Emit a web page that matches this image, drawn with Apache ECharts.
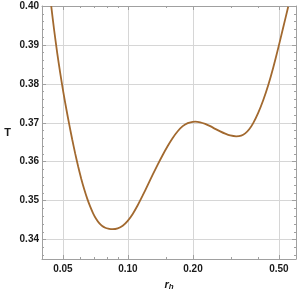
<!DOCTYPE html>
<html>
<head>
<meta charset="utf-8">
<script src="https://cdn.jsdelivr.net/npm/echarts@6/dist/echarts.min.js"></script>
<style>html,body{margin:0;padding:0;background:#fff}#c{width:300px;height:296px}</style>
</head>
<body>
<div id="c"></div>
<script>
const rValues = [0.044137, 0.045571, 0.047052, 0.048581, 0.050160, 0.051790, 0.053473, 0.055211, 0.057005, 0.058858, 0.060770, 0.062745, 0.064784, 0.066890, 0.069063, 0.071308, 0.073625, 0.076017, 0.078488, 0.081038, 0.083672, 0.085021,
  0.089675, 0.094585, 0.099763, 0.105225, 0.110985, 0.117061, 0.123469, 0.130229, 0.137358, 0.144878, 0.152810, 0.161176, 0.170000, 0.179307, 0.189123, 0.199477, 0.204865,
  0.216080, 0.227909, 0.240387, 0.253548, 0.267427, 0.282067, 0.297509, 0.317160,
  0.334525, 0.349095, 0.364308, 0.380179, 0.400991, 0.422946, 0.446103, 0.470524, 0.496282, 0.523449, 0.552108];
const TValues = [0.39995, 0.39364, 0.38790, 0.38273, 0.37802, 0.37366, 0.36957, 0.36570, 0.36207, 0.35870, 0.35564, 0.35291, 0.35051, 0.34844, 0.34668, 0.34527, 0.34421, 0.34349, 0.34304, 0.34278, 0.34268, 0.34265,
  0.34286, 0.34355, 0.34480, 0.34658, 0.34880, 0.35133, 0.35398, 0.35666, 0.35926, 0.36173, 0.36403, 0.36610, 0.36783, 0.36913, 0.36992, 0.37024, 0.37028,
  0.37013, 0.36972, 0.36913, 0.36844, 0.36778, 0.36719, 0.36673, 0.36651,
  0.36668, 0.36727, 0.36834, 0.36992, 0.37254, 0.37577, 0.37962, 0.38413, 0.38918, 0.39446, 0.39982];
const xTicks = [0.05, 0.1, 0.2, 0.5];
const xTickLabels = ['0.05', '0.10', '0.20', '0.50'];
const xMinorTicks = [0.04, 0.06, 0.07, 0.08, 0.09, 0.15, 0.3, 0.4, 0.6];
const yTicks = [0.34, 0.35, 0.36, 0.37, 0.38, 0.39, 0.40];
const yTickLabels = ['0.34', '0.35', '0.36', '0.37', '0.38', '0.39', '0.40'];
const yMinorTicks = [0.336, 0.338, 0.342, 0.344, 0.346, 0.348, 0.352, 0.354, 0.356, 0.358, 0.362, 0.364, 0.366, 0.368, 0.372, 0.374, 0.376, 0.378, 0.382, 0.384, 0.386, 0.388, 0.392, 0.394, 0.396, 0.398];
const xRange = [0.04, 0.6];
const yRange = [0.335, 0.40];

const L = Math.log10;
const axisGray = '#a0a0a0';
const gridGray = '#d6d6d6';
const labelStyle = {fontFamily: 'Liberation Sans, Arial, sans-serif', fontWeight: 'bold', fontSize: 10, color: '#1a1a1a'};

function nearestLabel(v, ticks, labels, f) {
  let best = 0, bd = Infinity;
  ticks.forEach((t, i) => { const d = Math.abs(f(t) - v); if (d < bd) { bd = d; best = i; } });
  return labels[best];
}

function xAxisDef(pos, major, main) {
  const vals = (major ? xTicks : xMinorTicks).map(L);
  return {
    type: 'value', position: pos, min: L(xRange[0]), max: L(xRange[1]),
    axisLine: {show: main, onZero: false, lineStyle: {color: axisGray, width: 1}},
    axisTick: {show: true, inside: true, length: major ? 4 : 2, customValues: vals, lineStyle: {color: axisGray}},
    axisLabel: main && pos === 'bottom' ? Object.assign({show: true, margin: 5, customValues: xTicks.map(L),
      formatter: v => nearestLabel(v, xTicks, xTickLabels, L)}, labelStyle) : {show: false},
    splitLine: {show: main && pos === 'bottom', lineStyle: {color: gridGray, width: 1}},
    name: main && pos === 'bottom' ? '{r|r}{h|h}' : '',
    nameLocation: 'middle', nameGap: 19,
    nameTextStyle: {rich: {
      r: {fontFamily: 'Liberation Sans, Arial, sans-serif', fontStyle: 'italic', fontWeight: 'bold', fontSize: 11, color: '#1a1a1a'},
      h: {fontFamily: 'Liberation Sans, Arial, sans-serif', fontStyle: 'italic', fontWeight: 'bold', fontSize: 8, color: '#1a1a1a', verticalAlign: 'bottom', padding: [5, 0, 0, 0]}
    }}
  };
}
function yAxisDef(pos, major, main) {
  const vals = major ? yTicks : yMinorTicks;
  return {
    type: 'value', position: pos, min: yRange[0], max: yRange[1],
    axisLine: {show: main, onZero: false, lineStyle: {color: axisGray, width: 1}},
    axisTick: {show: true, inside: true, length: major ? 4 : 2, customValues: vals, lineStyle: {color: axisGray}},
    axisLabel: main && pos === 'left' ? Object.assign({show: true, margin: 3, customValues: yTicks,
      formatter: v => nearestLabel(v, yTicks, yTickLabels, t => t)}, labelStyle) : {show: false},
    splitLine: {show: main && pos === 'left', lineStyle: {color: gridGray, width: 1}},
    name: main && pos === 'left' ? 'T' : '',
    nameLocation: 'middle', nameRotate: 0, nameGap: 31,
    nameTextStyle: {fontFamily: 'Liberation Sans, Arial, sans-serif', fontWeight: 'bold', fontSize: 11, color: '#1a1a1a'}
  };
}

const chart = echarts.init(document.getElementById('c'), null, {renderer: 'canvas'});
chart.setOption({
  animation: false,
  backgroundColor: '#fff',
  grid: {left: 42, right: 4, top: 6, bottom: 36, containLabel: false},
  xAxis: [xAxisDef('bottom', true, true), xAxisDef('bottom', false, false), xAxisDef('top', true, true), xAxisDef('top', false, false)],
  yAxis: [yAxisDef('left', true, true), yAxisDef('left', false, false), yAxisDef('right', true, true), yAxisDef('right', false, false)],
  series: [{
    type: 'line', xAxisIndex: 0, yAxisIndex: 0, smooth: 0.2, symbol: 'none', clip: true,
    lineStyle: {color: '#a2692f', width: 1.8},
    data: rValues.map((r, i) => [L(r), TValues[i]])
  }]
});
</script>
</body>
</html>
